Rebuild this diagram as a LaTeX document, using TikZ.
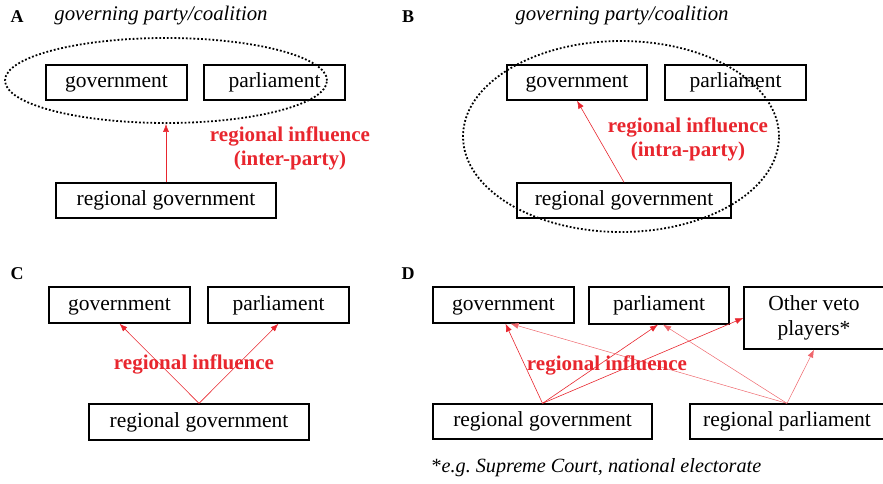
\documentclass[tikz,border=0pt]{standalone}
\usepackage{fontspec}
\setmainfont{Liberation Serif}
\usetikzlibrary{shapes.geometric,arrows.meta}
\definecolor{infred}{RGB}{232,38,46}
\tikzset{
  box/.style={draw, line width=1.3pt, inner sep=0pt, minimum height=35pt,
    text height=14pt, text depth=4pt,
    font=\fontsize{21.5}{25}\selectfont},
  party/.style={draw, ellipse, dotted, line width=1.8pt, inner sep=0pt},
  infl/.style={-{Latex[length=8pt,width=6pt]}, draw=infred, line width=0.6pt},
  weakinfl/.style={infl, draw=infred!70, line width=0.5pt},
  inftext/.style={text=infred, font=\fontsize{21}{24}\selectfont\bfseries, align=center},
  panel/.style={font=\fontsize{18}{20}\selectfont\bfseries},
  partylabel/.style={font=\fontsize{20.8}{22}\selectfont\itshape},
  notelabel/.style={font=\fontsize{20.2}{22}\selectfont\itshape}
}
\begin{document}
\begin{tikzpicture}[x=1pt,y=-1pt]
\useasboundingbox (0,0) rectangle (883,484);

% ---- A: inter-party influence
\node[panel] (labA) at (17,17) {A};
\node[partylabel] (ptA) at (161,16) {governing party/coalition};
\node[party, minimum width=322pt, minimum height=85pt] (partyA) at (166,80.5) {};
\node[box, minimum width=141pt] (govA) at (116.5,82.5) {government};
\node[box, minimum width=141pt] (parA) at (274.5,82.5) {parliament};
\node[box, minimum width=220pt] (regA) at (166,200.5) {regional government};
\draw[infl] (regA.north) -- (partyA.south);
\node[inftext] (infA) at (290,148) {regional influence\\(inter-party)};

% ---- B: intra-party influence
\node[panel] (labB) at (408,17) {B};
\node[partylabel] (ptB) at (622,16) {governing party/coalition};
\node[box, minimum width=140pt] (govB) at (577,82.5) {government};
\node[box, minimum width=141pt] (parB) at (735.5,82.5) {parliament};
\node[box, minimum width=214pt] (regB) at (624,200.5) {regional government};
\node[party, minimum width=316pt, minimum height=191pt] (partyB) at (621,136.5) {};
\draw[infl] (regB.north) -- (govB.south);
\node[inftext] (infB) at (688,139) {regional influence\\(intra-party)};

% ---- C: influence on government and parliament
\node[panel] (labC) at (17,274) {C};
\node[box, minimum width=141pt, minimum height=36pt] (govC) at (119.5,305) {government};
\node[box, minimum width=141pt, minimum height=36pt] (parC) at (278.5,305) {parliament};
\node[box, minimum width=220pt, minimum height=36pt] (regC) at (199,422) {regional government};
\draw[infl] (regC.north) -- (govC.south);
\draw[infl] (regC.north) -- (parC.south);
\node[inftext] (infC) at (194,364) {regional influence};

% ---- D: influence on all veto players
\node[panel] (labD) at (408,274) {D};
\node[box, minimum width=141pt, minimum height=36pt] (govD) at (503.5,305) {government};
\node[box, minimum width=140pt, minimum height=37pt] (parD) at (659,305.5) {parliament};
\node[box, minimum width=140pt, minimum height=62pt, align=center,
  text height=, text depth=] (vetoD) at (814,318)
  {Other veto\\players*};
\node[box, minimum width=219pt] (regD) at (542.5,421.5) {regional government};
\node[box, minimum width=194pt] (rparD) at (787,421.5) {regional parliament};
\draw[infl] (regD.north) -- ([xshift=2pt]govD.south);
\draw[infl] (regD.north) -- ([xshift=-1pt]parD.south);
\draw[infl] (regD.north) -- (vetoD.west);
\draw[weakinfl] (rparD.north) -- ([xshift=7pt]govD.south);
\draw[weakinfl] (rparD.north) -- ([xshift=4pt]parD.south);
\draw[weakinfl] (rparD.north) -- (vetoD.south);
\node[inftext] (infD) at (607,365) {regional influence};
\node[notelabel, anchor=west] (noteD) at (428,468) {\upshape*\itshape e.g.\ Supreme Court, national electorate};
\end{tikzpicture}
\end{document}
